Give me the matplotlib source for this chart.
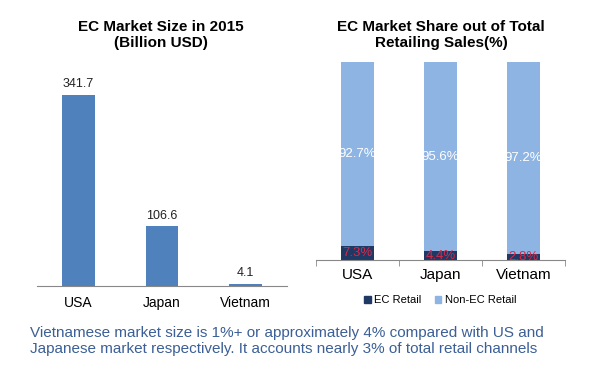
import matplotlib
matplotlib.use('Agg')
import matplotlib.pyplot as plt
from matplotlib.patches import Patch

plt.rcParams['font.family'] = ['Liberation Sans', 'DejaVu Sans']

countries = ['USA', 'Japan', 'Vietnam']
market_size = [341.7, 106.6, 4.1]          # billion USD
ec_share = [7.3, 4.4, 2.8]                 # % of total retail
non_ec_share = [92.7, 95.6, 97.2]

W, H = 600, 371
fig = plt.figure(figsize=(W / 100, H / 100), dpi=100)
fig.patch.set_facecolor('white')

def box(x0, y0, x1, y1):
    # pixel box (top-left origin) -> figure fraction rect
    return [x0 / W, 1 - y1 / H, (x1 - x0) / W, (y1 - y0) / H]

# left chart: market size
ax1 = fig.add_axes(box(37, 60, 287, 286))
x = range(len(countries))
ax1.bar(x, market_size, width=0.39, color='#4F81BD')
for i, v in enumerate(market_size):
    ax1.text(i, v + 8, f'{v}', ha='center', va='bottom', fontsize=9, color='#222222')
ax1.set_xlim(-0.5, 2.5)
ax1.set_ylim(0, 404)
ax1.set_yticks([])
ax1.set_xticks(list(x), countries, fontsize=10)
ax1.tick_params(axis='x', length=0, pad=7)
for s in ['top', 'right', 'left']:
    ax1.spines[s].set_visible(False)
ax1.spines['bottom'].set_color('#888888')

# right chart: share of total retail
ax2 = fig.add_axes(box(316, 62, 565, 260))
ax2.bar(x, ec_share, width=0.39, color='#1F3864', label='EC Retail')
ax2.bar(x, non_ec_share, width=0.39, bottom=ec_share, color='#8EB4E3', label='Non-EC Retail')
for i in x:
    ax2.text(i, ec_share[i] / 2, f'{ec_share[i]}%', ha='center', va='center',
             fontsize=9.5, color='#D6294A')
    ax2.text(i, ec_share[i] + non_ec_share[i] / 2, f'{non_ec_share[i]}%', ha='center',
             va='center', fontsize=9.5, color='white')
ax2.set_xlim(-0.5, 2.5)
ax2.set_ylim(0, 100)
ax2.set_yticks([])
ax2.set_xticks(list(x), countries, fontsize=11)
ax2.set_xticks([-0.5, 0.5, 1.5, 2.5], minor=True)
ax2.tick_params(axis='x', which='major', length=0, pad=6)
ax2.tick_params(axis='x', which='minor', length=4, color='#888888', direction='out')
for s in ['top', 'right', 'left']:
    ax2.spines[s].set_visible(False)
ax2.spines['bottom'].set_color('#888888')

handles = [Patch(color='#1F3864', label='EC Retail'),
           Patch(color='#8EB4E3', label='Non-EC Retail')]
fig.legend(handles=handles, loc='center', bbox_to_anchor=(440 / W, 1 - 300 / H),
           ncol=2, frameon=False, fontsize=8, handlelength=0.6, handleheight=0.6,
           handletextpad=0.3, columnspacing=1.2)

# titles
fig.text(161 / W, 1 - 35 / H, 'EC Market Size in 2015\n(Billion USD)', ha='center',
         va='center', fontsize=11, fontweight='bold', linespacing=1.1)
fig.text(441 / W, 1 - 35 / H, 'EC Market Share out of Total\nRetailing Sales(%)',
         ha='center', va='center', fontsize=11, fontweight='bold', linespacing=1.1)

fig.text(30 / W, 1 - 341 / H,
         'Vietnamese market size is 1%+ or approximately 4% compared with US and\n'
         'Japanese market respectively. It accounts nearly 3% of total retail channels',
         ha='left', va='center', fontsize=11, color='#3B5F96', linespacing=1.15)

fig.savefig('out.png', dpi=100)
